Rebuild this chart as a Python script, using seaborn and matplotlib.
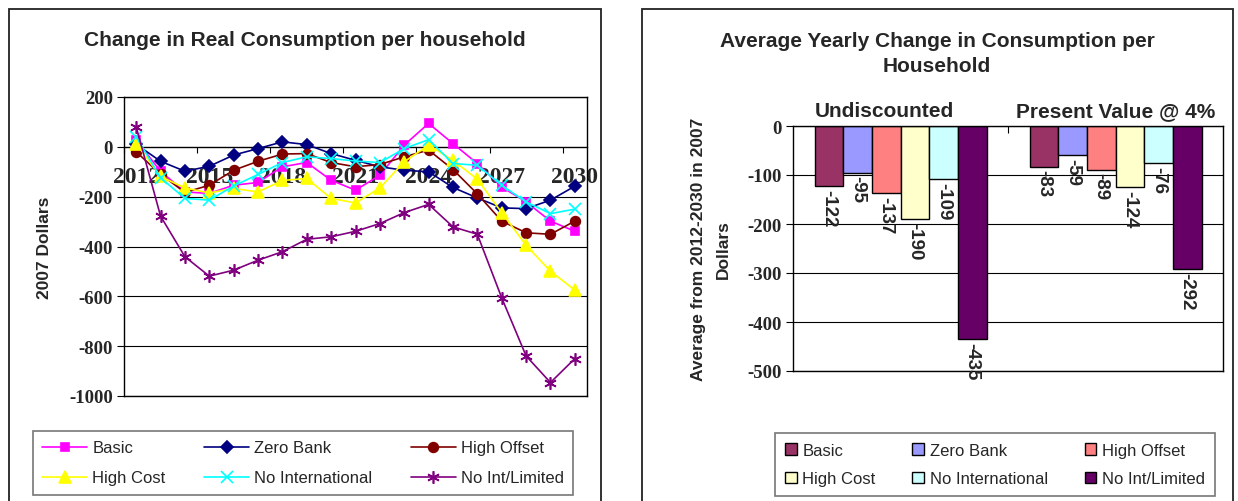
import matplotlib
matplotlib.use("Agg")
import matplotlib.pyplot as plt
from matplotlib.patches import Rectangle
from matplotlib.transforms import ScaledTranslation
import pandas as pd
import seaborn as sns

# ---- data ----
years = [2012, 2013, 2014, 2015, 2016, 2017, 2018, 2019, 2020, 2021,
         2022, 2023, 2024, 2025, 2026, 2027, 2028, 2029, 2030]
label_years = [2012, 2015, 2018, 2021, 2024, 2027, 2030]
tick_bounds = [2011.5, 2014.5, 2017.5, 2020.5, 2023.5, 2026.5, 2029.5]
scenarios = ["Basic", "Zero Bank", "High Offset", "High Cost", "No International", "No Int/Limited"]

basic = [27, -98, -181, -187, -154, -143, -80, -63, -134, -174,
         -114, 7, 94, 13, -67, -161, -221, -298, -339]
zero_bank = [10, -58, -98, -78, -33, -7, 20, 9, -27, -54,
             -80, -94, -100, -163, -205, -245, -248, -214, -158]
high_offset = [-20, -110, -183, -154, -94, -58, -29, -27, -63, -80,
               -71, -40, -13, -91, -189, -298, -345, -351, -298]
high_cost = [13, -119, -165, -185, -167, -181, -135, -127, -207, -225,
             -165, -60, 7, -54, -130, -264, -395, -499, -575]
no_international = [40, -124, -207, -214, -157, -111, -63, -40, -47, -57,
                    -63, -7, 29, -67, -74, -154, -221, -268, -250]
no_int_limited = [80, -278, -441, -519, -495, -455, -421, -371, -361, -339,
                  -308, -264, -231, -321, -351, -606, -839, -946, -850]

measures = ["Undiscounted", "Present Value @ 4%"]
undiscounted = [-122, -95, -137, -190, -109, -435]
present_value = [-83, -59, -89, -124, -76, -292]

line_colors = ["#FF00FF", "#000080", "#800000", "#FFFF00", "#00FFFF", "#800080"]
line_markers = ["s", "D", "o", "^", "x", (6, 2, 0)]
marker_sizes = [6, 6, 7, 8, 8, 9]
bar_colors = ["#993366", "#9999FF", "#FF8080", "#FFFFCC", "#CCFFFF", "#660066"]

sns.set_style("white")
plt.rcParams["font.family"] = ["Liberation Sans", "DejaVu Sans"]

W, H = 1238, 502
fig = plt.figure(figsize=(W / 100, H / 100), dpi=100)

# outer chart frames
for x0, x1 in [(9, 601), (642, 1233)]:
    fig.add_artist(Rectangle((x0 / W, -0.05), (x1 - x0) / W, 1.05 - 10 / H,
                             transform=fig.transFigure, fill=False,
                             edgecolor="#222222", linewidth=1.3))

# row-major legend order for 3 columns
order = [0, 3, 1, 4, 2, 5]

# ---- left: line chart ----
ax1 = fig.add_axes([124 / W, 1 - 397 / H, 463 / W, 299 / H])
series = [basic, zero_bank, high_offset, high_cost, no_international, no_int_limited]
for name, vals, c, m, ms in zip(scenarios, series, line_colors, line_markers, marker_sizes):
    sns.lineplot(x=years, y=vals, color=c, marker=m, markersize=ms,
                 markeredgecolor=c, markeredgewidth=1.2, linewidth=1.2,
                 label=name, ax=ax1)
handles1, labels1 = ax1.get_legend_handles_labels()
ax1.get_legend().remove()

ax1.set_xlim(2011.5, 2030.5)
ax1.set_ylim(-1000, 200)
yt1 = [-1000, -800, -600, -400, -200, 0, 200]
ax1.set_yticks(yt1, labels=[str(v) for v in yt1], fontfamily="Liberation Serif",
               fontweight="bold", fontsize=13.5)
ax1.set_xticks([])
ax1.yaxis.grid(True, color="black", linewidth=0.8)
ax1.xaxis.grid(False)
ax1.tick_params(axis="y", left=True, length=5, width=0.8, color="black", pad=3)
for s in ax1.spines.values():
    s.set_color("black")
    s.set_linewidth(1)
ax1.set_ylabel("2007 Dollars", fontsize=12.5, fontweight="bold")
ax1.yaxis.set_label_coords(-0.155, 0.5)

sec = ax1.secondary_xaxis(1000 / 1200)
sec.set_alignment("bottom")
sec.set_xticks(tick_bounds, labels=[""] * len(tick_bounds))
sec.set_xticks(label_years, labels=[str(y) for y in label_years], minor=True,
               fontfamily="Liberation Serif", fontweight="bold", fontsize=17)
sec.tick_params(which="major", direction="out", length=4, width=0.8, color="black", bottom=True)
sec.tick_params(which="minor", length=0, pad=14, bottom=True)
sec.spines["bottom"].set_color("#444444")
sec.spines["bottom"].set_linewidth(1)

fig.text(305 / W, 1 - 40 / H, "Change in Real Consumption per household",
         ha="center", va="center", fontsize=15, fontweight="bold")

leg1 = fig.legend([handles1[i] for i in order], [labels1[i] for i in order],
                  loc="center", bbox_to_anchor=(33 / W, 1 - 497 / H, 540 / W, 66 / H),
                  mode="expand", ncol=3, fontsize=12, handlelength=2.7,
                  handletextpad=0.3, labelspacing=0.9, borderpad=0.55,
                  borderaxespad=0, fancybox=False, frameon=True, edgecolor="#555555")
leg1.get_frame().set_linewidth(1.2)

# ---- right: bar chart ----
ax2 = fig.add_axes([793 / W, 1 - 372 / H, 430 / W, 245 / H])
df = pd.DataFrame({
    "measure": [m for m in measures for _ in scenarios],
    "scenario": scenarios * 2,
    "value": undiscounted + present_value,
})
sns.barplot(data=df, x="measure", y="value", hue="scenario", order=measures,
            hue_order=scenarios, palette=bar_colors, saturation=1,
            edgecolor="black", linewidth=1, width=0.8, ax=ax2)
handles2, labels2 = ax2.get_legend_handles_labels()
ax2.get_legend().remove()
for cont in ax2.containers:
    ax2.bar_label(cont, fmt="{:.0f}", rotation=-90, padding=2,
                  fontsize=13.5, fontweight="bold")

ax2.set_ylim(-500, 0)
ax2.set_xlim(-0.5, 1.5)
yt2 = [-500, -400, -300, -200, -100, 0]
ax2.set_yticks(yt2, labels=[str(v) for v in yt2], fontfamily="Liberation Serif",
               fontweight="bold", fontsize=13.5)
ax2.yaxis.grid(True, color="black", linewidth=0.8)
ax2.xaxis.grid(False)
ax2.set_axisbelow(True)
ax2.tick_params(axis="y", left=True, length=5, width=0.8, color="black", pad=3)
ax2.xaxis.tick_top()
ax2.set_xticks([0.5], labels=[""])
ax2.set_xticks([0, 1], labels=measures, minor=True, fontweight="bold", fontsize=15)
ax2.tick_params(axis="x", which="major", direction="in", length=5, width=0.8,
                color="black", top=True, bottom=False)
ax2.tick_params(axis="x", which="minor", length=0, pad=4, top=True, bottom=False)
# the first category title sits a little left of its group
first_lbl = ax2.xaxis.get_minorticklabels()[0]
first_lbl.set_transform(first_lbl.get_transform()
                        + ScaledTranslation(-0.16, 0, fig.dpi_scale_trans))
for s in ax2.spines.values():
    s.set_color("black")
    s.set_linewidth(1)
ax2.set_xlabel("")
ax2.set_ylabel("Average from 2012-2030 in 2007\nDollars", fontsize=12.5,
               fontweight="bold", linespacing=1.8)
ax2.yaxis.set_label_coords(-0.144, 0.5)

fig.text(937 / W, 1 - 54 / H, "Average Yearly Change in Consumption per\nHousehold",
         ha="center", va="center", fontsize=15, fontweight="bold", linespacing=1.4)

leg2 = fig.legend([handles2[i] for i in order], [labels2[i] for i in order],
                  loc="center", bbox_to_anchor=(775 / W, 1 - 499 / H, 440 / W, 67 / H),
                  mode="expand", ncol=3, fontsize=12, handlelength=0.7,
                  handleheight=0.7, handletextpad=0.35, labelspacing=0.8,
                  borderpad=0.6, borderaxespad=0, fancybox=False, frameon=True,
                  edgecolor="#555555")
leg2.get_frame().set_linewidth(1.2)

fig.savefig("out.png", dpi=100)
